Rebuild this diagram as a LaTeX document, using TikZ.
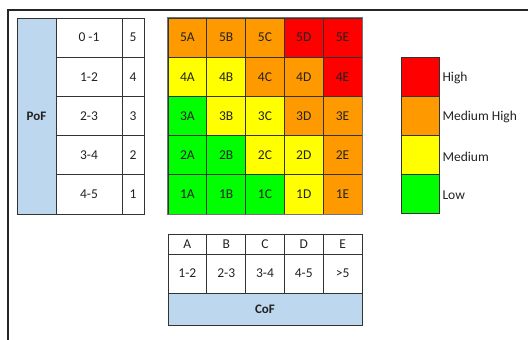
\documentclass[tikz,border=0pt]{standalone}
\usepackage{fontspec}
\setmainfont{Carlito}
\definecolor{cred}{HTML}{FF0000}
\definecolor{corange}{HTML}{FF9900}
\definecolor{cyellow}{HTML}{FFFF00}
\definecolor{cgreen}{HTML}{00FF00}
\definecolor{cblue}{HTML}{BDD7EE}
\definecolor{txt}{HTML}{222222}
\begin{document}
\begin{tikzpicture}[x=1pt,y=-1pt,
  cell/.style={draw=black!80, line width=0.7pt, inner sep=0pt, text=txt,
    font=\fontsize{13.5}{15}\selectfont},
  mcell/.style={cell, minimum width=38.8pt, minimum height=39.2pt},
  frame/.style={draw=black!85, line width=1.8pt}]
\useasboundingbox (0,0) rectangle (528,340);
% outer frame
\coordinate (ftl) at (8,10);
\coordinate (ftr) at (528,10);
\coordinate (fbl) at (8,340);
\draw[frame] (ftr) -- (ftl) -- (fbl);
% PoF table
\node[cell, fill=cblue, minimum width=39pt, minimum height=196pt, font=\bfseries\fontsize{13}{15}\selectfont] (pof) at (36.5,116) {PoF};
\foreach \r/\t [count=\i from 0] in {5/0 -1,4/1-2,3/2-3,2/3-4,1/4-5}{
  \node[cell, minimum width=66pt, minimum height=39.2pt] (rng\r) at (89,{37.6+39.2*\i}) {\t};
  \node[cell, minimum width=22pt, minimum height=39.2pt] (num\r) at (133,{37.6+39.2*\i}) {\r};
}
% risk matrix
\foreach \r/\ca/\cb/\cc/\cd/\ce [count=\i from 0] in {
  5/corange/corange/corange/cred/cred,
  4/cyellow/cyellow/corange/corange/cred,
  3/cgreen/cyellow/cyellow/corange/corange,
  2/cgreen/cgreen/cyellow/cyellow/corange,
  1/cgreen/cgreen/cgreen/cyellow/corange}{
  \node[mcell, fill=\ca] (m\r A) at ({168+19.4},{37.6+39.2*\i}) {\r A};
  \node[mcell, fill=\cb] (m\r B) at ({168+19.4+38.8},{37.6+39.2*\i}) {\r B};
  \node[mcell, fill=\cc] (m\r C) at ({168+19.4+77.6},{37.6+39.2*\i}) {\r C};
  \node[mcell, fill=\cd] (m\r D) at ({168+19.4+116.4},{37.6+39.2*\i}) {\r D};
  \node[mcell, fill=\ce] (m\r E) at ({168+19.4+155.2},{37.6+39.2*\i}) {\r E};
}
\draw[draw=black!55, line width=1pt] (m5A.north west) rectangle (m1E.south east);
% CoF table
\foreach \l/\v [count=\i from 0] in {A/1-2,B/2-3,C/3-4,D/4-5,E/>5}{
  \node[cell, minimum width=38.8pt, minimum height=20pt] (cl\l) at ({187.4+38.8*\i},244) {\l};
  \node[cell, minimum width=38.8pt, minimum height=39pt] (cv\l) at ({187.4+38.8*\i},273.5) {\v};
}
\node[cell, fill=cblue, minimum width=194pt, minimum height=32pt, font=\bfseries\fontsize{13}{15}\selectfont] (cof) at (265,309) {CoF};
% legend
\foreach \c/\t [count=\i from 0] in {cred/High,corange/Medium High,cyellow/Medium,cgreen/Low}{
  \node[cell, fill=\c, minimum width=38pt, minimum height=39.2pt] (lg\i) at (420,{76.6+39.2*\i}) {};
  \node[anchor=west, inner sep=0pt, text=txt, font=\fontsize{13.5}{15}\selectfont] (lt\i) at ([xshift=3pt,yshift=-1.5pt]lg\i.east) {\t};
}
\end{tikzpicture}
\end{document}
